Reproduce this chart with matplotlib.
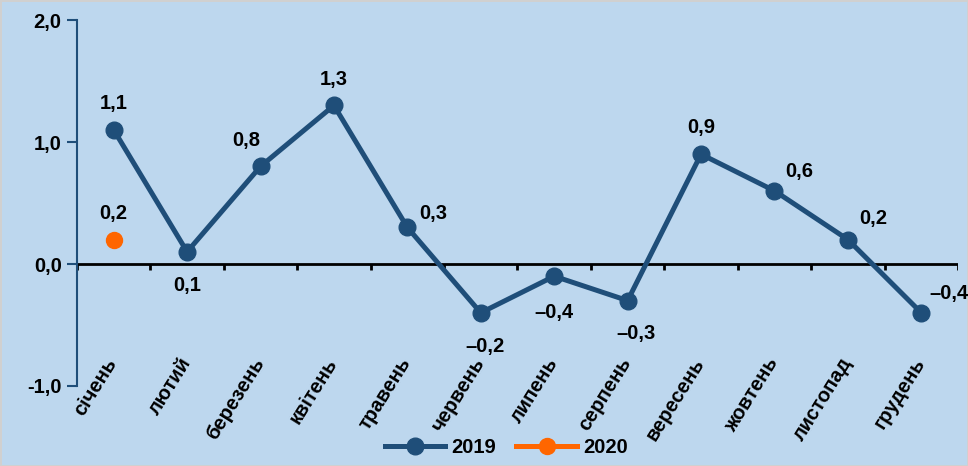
import matplotlib
matplotlib.use("Agg")
import matplotlib.pyplot as plt
from matplotlib.lines import Line2D

plt.rcParams['font.family'] = ['Liberation Sans', 'DejaVu Sans']
plt.rcParams['font.weight'] = 'bold'

months = ['січень', 'лютий', 'березень', 'квітень', 'травень', 'червень',
          'липень', 'серпень', 'вересень', 'жовтень', 'листопад', 'грудень']
values_2019 = [1.1, 0.1, 0.8, 1.3, 0.3, -0.4, -0.1, -0.3, 0.9, 0.6, 0.2, -0.4]
labels_2019 = ['1,1', '0,1', '0,8', '1,3', '0,3', '–0,2', '–0,4', '–0,3',
               '0,9', '0,6', '0,2', '–0,4']
values_2020 = [0.2]
labels_2020 = ['0,2']
yticks = [-1.0, 0.0, 1.0, 2.0]
ytick_labels = ['-1,0', '0,0', '1,0', '2,0']

# label offsets in points (style)
offsets_2019 = [(0, 19), (0, -24), (-10, 19), (0, 19), (19, 10), (3, -24),
                (0, -26), (6, -24), (0, 19), (18, 14), (18, 15), (20, 14)]

FS = 14.5
BG = '#BDD7EE'
BLUE = '#1F4E79'
ORANGE = '#FF6600'

fig = plt.figure(figsize=(9.68, 4.66), dpi=100)
fig.patch.set_facecolor(BG)
fig.patch.set_edgecolor('#D0D0D0')
fig.patch.set_linewidth(2)
ax = fig.add_axes([0.0795, 0.1717, 0.9102, 0.7853])
ax.set_facecolor(BG)

x = list(range(len(months)))
ax.plot(x, values_2019, color=BLUE, lw=3.6, marker='o', ms=12, zorder=3)
ax.plot([0], values_2020, color=ORANGE, lw=0, marker='o', ms=11.5, zorder=3)

for xi, v, lab, off in zip(x, values_2019, labels_2019, offsets_2019):
    ax.annotate(lab, (xi, v), xytext=off, textcoords='offset points',
                ha='center', va='center', fontsize=FS, fontweight='bold',
                color='black')
ax.annotate(labels_2020[0], (0, values_2020[0]), xytext=(0, 19),
            textcoords='offset points', ha='center', va='center',
            fontsize=FS, fontweight='bold', color='black')

ax.set_xlim(-0.5, len(months) - 0.5)
ax.set_ylim(-1.0, 2.0)
ax.set_yticks(yticks)
ax.set_yticklabels(ytick_labels, fontsize=FS, fontweight='bold')
ax.tick_params(axis='y', length=7, width=1.5, color=BLUE, pad=4)

for s in ['top', 'right', 'bottom']:
    ax.spines[s].set_visible(False)
ax.spines['left'].set_color(BLUE)
ax.spines['left'].set_linewidth(1.5)

# x axis at zero with category-boundary ticks
ax.axhline(0, color='black', lw=2, zorder=2)
ax.set_xticks([])
for b in range(len(months) + 1):
    bx = b - 0.5
    ax.plot([bx, bx], [0, -0.05], color='black', lw=2, zorder=2,
            solid_capstyle='butt')

# category labels, rotated
for xi, m in zip(x, months):
    ax.text(xi + 0.1, -0.74, m, rotation=58, ha='right', va='top',
            fontsize=FS, fontweight='bold', color='black')

handles = [Line2D([], [], color=BLUE, lw=3.6, marker='o', ms=12),
           Line2D([], [], color=ORANGE, lw=3.6, marker='o', ms=11.5)]
leg = fig.legend(handles, ['2019', '2020'], loc='center',
                 bbox_to_anchor=(0.523, 0.04), ncol=2, frameon=False,
                 fontsize=FS, handlelength=3.0, columnspacing=1.0,
                 handletextpad=0.3)
for t in leg.get_texts():
    t.set_fontweight('bold')

fig.savefig('out.png', dpi=100, facecolor=fig.get_facecolor(),
            edgecolor=fig.get_edgecolor())
